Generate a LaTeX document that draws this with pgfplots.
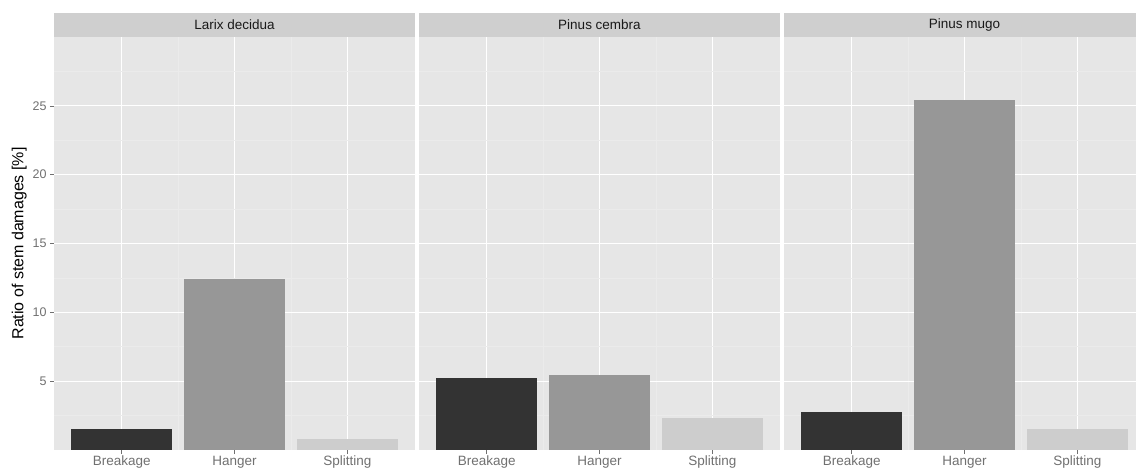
\documentclass[border=0pt]{standalone}
\usepackage{pgfplots}
\pgfplotsset{compat=1.18}
\usepackage{fontspec}
\setmainfont{Liberation Sans}
\definecolor{panelbg}{HTML}{E6E6E6}
\definecolor{stripbg}{HTML}{CFCFCF}
\definecolor{minorgrid}{HTML}{EBEBEB}
\definecolor{tickgray}{HTML}{707070}
\definecolor{cBreak}{HTML}{333333}
\definecolor{cHang}{HTML}{979797}
\definecolor{cSplit}{HTML}{CDCDCD}
\pgfplotsset{
  panel/.style={
    scale only axis, width=361bp, height=413bp,
    anchor=south west,
    xmin=0.4, xmax=3.6, ymin=0, ymax=30,
    xtick={1,2,3}, xticklabels={Breakage,Hanger,Splitting},
    ytick={5,10,15,20,25},
    minor xtick={1.5,2.5}, minor ytick={2.5,7.5,12.5,17.5,22.5,27.5},
    grid=both,
    major grid style={draw=white, line width=1.2bp},
    minor grid style={draw=minorgrid, line width=0.6bp},
    axis line style={draw=none},
    axis background/.style={fill=panelbg},
    tick align=outside, xtick pos=bottom, ytick pos=left,
    major tick length=4bp, minor tick length=0pt,
    tick style={draw=tickgray, line width=0.6bp},
    /pgf/number format/assume math mode=true,
    ticklabel style={text=tickgray, font=\fontsize{12.5bp}{14bp}\selectfont},
    xticklabel style={yshift=1.5bp, font=\fontsize{13.5bp}{15bp}\selectfont},
    ybar, bar width=0.9, bar shift=0pt,
    clip=false,
  },
  strip/.style={
    after end axis/.append code={
      \fill[stripbg] (rel axis cs:0,1) rectangle ([yshift=24bp]rel axis cs:1,1);
      \node[font=\fontsize{13.5bp}{15bp}\selectfont, text=black!90] at ([yshift=12bp]rel axis cs:0.5,1) {#1};
    }
  },
}
\begin{document}
\begin{tikzpicture}
\path[use as bounding box] (0,0) rectangle (1136bp,470bp);
% Panel 1
\begin{axis}[panel, strip={Larix decidua}, at={(54bp,20bp)},
  ylabel={Ratio of stem damages [\%]},
  ylabel style={font=\fontsize{16bp}{18bp}\selectfont, text=black, yshift=-1bp}]
\addplot[fill=cBreak, draw=none] coordinates {(1,1.5)};
\addplot[fill=cHang, draw=none] coordinates {(2,12.4)};
\addplot[fill=cSplit, draw=none] coordinates {(3,0.8)};
\end{axis}
% Panel 2
\begin{axis}[panel, strip={Pinus cembra}, at={(419bp,20bp)},
  yticklabels={}, y tick style={draw=none}]
\addplot[fill=cBreak, draw=none] coordinates {(1,5.25)};
\addplot[fill=cHang, draw=none] coordinates {(2,5.45)};
\addplot[fill=cSplit, draw=none] coordinates {(3,2.35)};
\end{axis}
% Panel 3
\begin{axis}[panel, strip={Pinus mugo}, at={(784bp,20bp)},
  yticklabels={}, y tick style={draw=none}]
\addplot[fill=cBreak, draw=none] coordinates {(1,2.75)};
\addplot[fill=cHang, draw=none] coordinates {(2,25.4)};
\addplot[fill=cSplit, draw=none] coordinates {(3,1.55)};
\end{axis}
\end{tikzpicture}
\end{document}
